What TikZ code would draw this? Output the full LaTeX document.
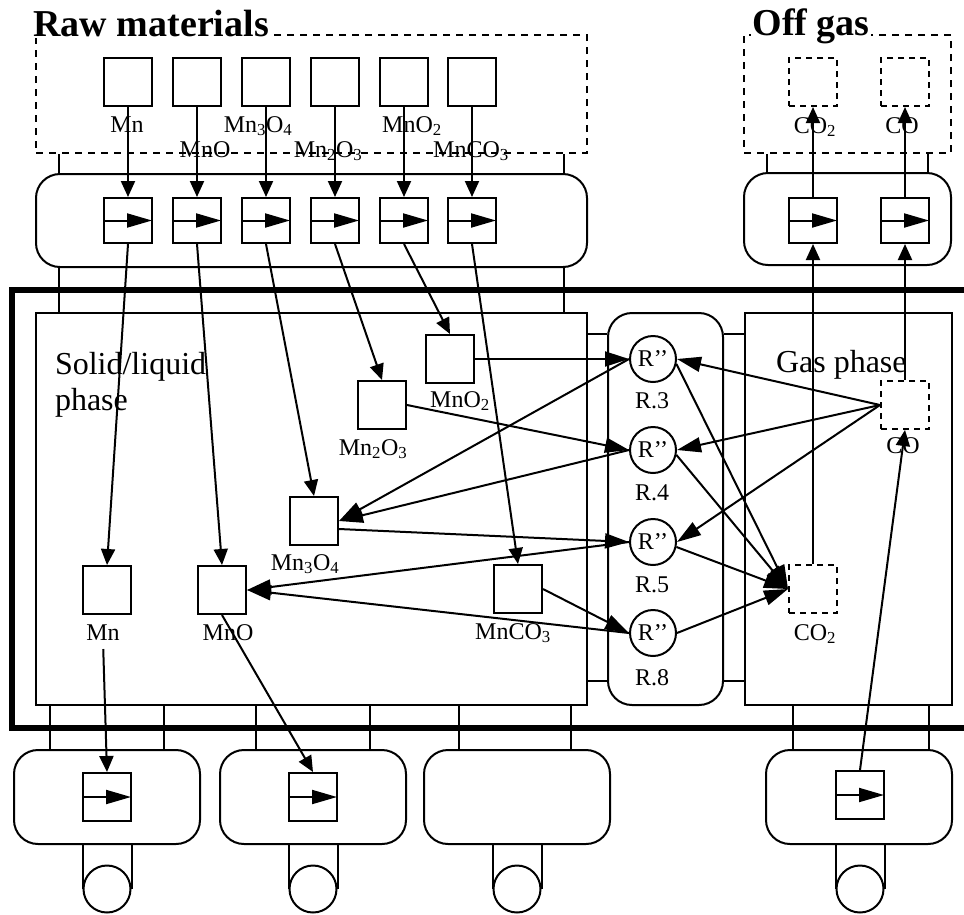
\documentclass[tikz,border=0pt]{standalone}
\usepackage{fontspec}
\setmainfont{Liberation Serif}
\usetikzlibrary{arrows.meta,positioning,calc}
\tikzset{
  sp/.style={draw,minimum size=48pt,inner sep=0pt},
  gsp/.style={sp,dash pattern=on 6pt off 5pt},
  store/.style={draw,dash pattern=on 7pt off 6pt,inner sep=0pt},
  port/.style={draw,rounded corners=24pt,inner sep=0pt},
  phasebox/.style={draw,inner sep=0pt,minimum height=392pt},
  valve/.style={draw,minimum width=48pt,minimum height=45pt,inner sep=0pt,
    path picture={\draw[line width=2pt,-{Triangle[length=25pt,width=14pt]}]
      (path picture bounding box.west) -- (path picture bounding box.east);}},
  rxn/.style={circle,draw,minimum size=46pt,inner sep=0pt,font=\fontsize{24}{26}\selectfont},
  drum/.style={circle,draw,minimum size=47pt,inner sep=0pt},
  arr/.style={-{Triangle[length=16pt,width=14pt]}},
  rarr/.style={-{Triangle[length=24pt,width=15pt]}},
  lab/.style={font=\fontsize{24}{26}\selectfont,inner sep=0pt,anchor=base},
  phs/.style={font=\fontsize{32}{36}\selectfont,inner sep=0pt,anchor=base west},
  ttl/.style={font=\fontsize{38}{40}\selectfont\bfseries,inner sep=1.5pt,fill=white,anchor=base west},
}

\begin{document}
\begin{tikzpicture}[x=1pt,y=-1pt,line width=2pt]
\useasboundingbox (0,0) rectangle (964,914);
% stores on top
\node[store,minimum width=551pt,minimum height=118pt] (rawbox) at (311.5,94) {};
\node[store,minimum width=207pt,minimum height=118pt] (offbox) at (847.5,94) {};
\node[ttl] (rawttl) at (31,36) {Raw materials};
\node[ttl] (offttl) at (750,35) {Off gas};

% raw materials
\node[sp] (rMn) at (128,82) {};
\node[sp] (rMnO) at (197,82) {};
\node[sp] (rMn3O4) at (266,82) {};
\node[sp] (rMn2O3) at (335,82) {};
\node[sp] (rMnO2) at (404,82) {};
\node[sp] (rMnCO3) at (472,82) {};
\node[lab] (tMn) at (127,132) {Mn};
\node[lab] (tMnO) at (205,157) {MnO};
\node[lab] (tMn3O4) at (258,132) {Mn\textsubscript{3}O\textsubscript{4}};
\node[lab] (tMn2O3) at (328,157) {Mn\textsubscript{2}O\textsubscript{3}};
\node[lab] (tMnO2) at (412,132) {MnO\textsubscript{2}};
\node[lab] (tMnCO3) at (471,157) {MnCO\textsubscript{3}};

% off gas species
\node[gsp] (oCO2) at (813,82) {};
\node[gsp] (oCO) at (905,82) {};
\node[lab] (tCO2) at (815,133) {CO\textsubscript{2}};
\node[lab] (tCO) at (902,133) {CO};

% feed and off gas ports
\node[port,minimum width=551pt,minimum height=93pt] (rawport) at (311.5,220.5) {};
\node[port,minimum width=207pt,minimum height=92pt] (offport) at (847.5,219) {};
\draw ([xshift=24pt]rawbox.south west) -- ([xshift=24pt]rawport.north west);
\draw ([xshift=-24pt]rawbox.south east) -- ([xshift=-24pt]rawport.north east);
\draw ([xshift=24pt]offbox.south west) -- ([xshift=24pt]offport.north west);
\draw ([xshift=-24pt]offbox.south east) -- ([xshift=-24pt]offport.north east);
\node[valve] (vMn) at (128,220.5) {};
\node[valve] (vMnO) at (197,220.5) {};
\node[valve] (vMn3O4) at (266,220.5) {};
\node[valve] (vMn2O3) at (335,220.5) {};
\node[valve] (vMnO2) at (404,220.5) {};
\node[valve] (vMnCO3) at (472,220.5) {};
\node[valve] (ovCO2) at (813,220.5) {};
\node[valve] (ovCO) at (905,220.5) {};

% plant frame
\draw[line width=6pt] (975,290) -- (12,290) -- (12,728) -- (975,728);

% phases and reactor
\node[phasebox,minimum width=551pt] (solid) at (311.5,509) {};
\node[port,minimum width=115pt,minimum height=392pt] (react) at (665.5,509) {};
\node[phasebox,minimum width=207pt] (gas) at (848.5,509) {};
\node[phs] (slA) at (54,374) {Solid/liquid};
\node[phs] (slB) at (54,410) {phase};
\node[phs] (gph) at (775,372) {Gas phase};
\draw ([xshift=24pt]rawport.south west) -- ([xshift=24pt]solid.north west);
\draw ([xshift=-24pt]rawport.south east) -- ([xshift=-24pt]solid.north east);
\draw ([yshift=-22pt]solid.north east) -- ([yshift=-22pt]react.north west);
\draw ([yshift=25pt]solid.south east) -- ([yshift=25pt]react.south west);
\draw ([yshift=-22pt]react.north east) -- ([yshift=-22pt]gas.north west);
\draw ([yshift=25pt]react.south east) -- ([yshift=25pt]gas.south west);

% solid/liquid species
\node[sp] (sMnO2) at (450,359) {};
\node[sp] (sMn2O3) at (382,405) {};
\node[sp] (sMn3O4) at (314,521) {};
\node[sp] (sMn) at (107,590) {};
\node[sp] (sMnO) at (222,590) {};
\node[sp] (sMnCO3) at (518,589) {};
\node[lab] (lMnO2) at (460,407) {MnO\textsubscript{2}};
\node[lab] (lMn2O3) at (373,455) {Mn\textsubscript{2}O\textsubscript{3}};
\node[lab] (lMn3O4) at (305,570) {Mn\textsubscript{3}O\textsubscript{4}};
\node[lab] (lMn) at (103,640) {Mn};
\node[lab] (lMnO) at (228,640) {MnO};
\node[lab] (lMnCO3) at (513,639) {MnCO\textsubscript{3}};

% reactions
\node[rxn] (R3) at (653,359) {R’’};
\node[rxn] (R4) at (653,450) {R’’};
\node[rxn] (R5) at (653,542) {R’’};
\node[rxn] (R8) at (653,633) {R’’};
\node[lab] (lR3) at (652,408) {R.3};
\node[lab] (lR4) at (652,500) {R.4};
\node[lab] (lR5) at (652,592) {R.5};
\node[lab] (lR8) at (652,685) {R.8};

% gas species
\node[gsp] (gCO) at (905,405) {};
\node[gsp] (gCO2) at (813,589) {};
\node[lab] (lCO) at (903,453) {CO};
\node[lab] (lCO2) at (815,640) {CO\textsubscript{2}};

% outlet ports
\node[port,minimum width=186pt,minimum height=94pt] (out1) at (107,797) {};
\node[port,minimum width=186pt,minimum height=94pt] (out2) at (313,797) {};
\node[port,minimum width=186pt,minimum height=94pt] (out3) at (517,797) {};
\node[port,minimum width=186pt,minimum height=94pt] (out4) at (859,797) {};
\node[valve,minimum height=48pt] (bv1) at (107,797) {};
\node[valve,minimum height=48pt] (bv2) at (313,797) {};
\node[valve,minimum height=48pt] (bv4) at (860,795) {};
\node[drum] (d1) at (107,889) {};
\node[drum] (d2) at (313,889) {};
\node[drum] (d3) at (517,889) {};
\node[drum] (d4) at (860,889) {};
\draw ([xshift=-57pt]out1.north) -- ([xshift=-57pt]out1.north |- solid.south);
\draw ([xshift=57pt]out1.north) -- ([xshift=57pt]out1.north |- solid.south);
\draw ([xshift=-57pt]out2.north) -- ([xshift=-57pt]out2.north |- solid.south);
\draw ([xshift=57pt]out2.north) -- ([xshift=57pt]out2.north |- solid.south);
\draw ([xshift=-58pt]out3.north) -- ([xshift=-58pt]out3.north |- solid.south);
\draw ([xshift=54pt]out3.north) -- ([xshift=54pt]out3.north |- solid.south);
\draw ([xshift=-66pt]out4.north) -- ([xshift=-66pt]out4.north |- gas.south);
\draw ([xshift=70pt]out4.north) -- ([xshift=70pt]out4.north |- gas.south);
\draw (d1.west |- out1.south) -- (d1.west); \draw (d1.east |- out1.south) -- (d1.east);
\draw (d2.west |- out2.south) -- (d2.west); \draw (d2.east |- out2.south) -- (d2.east);
\draw (d3.west |- out3.south) -- (d3.west); \draw (d3.east |- out3.south) -- (d3.east);
\draw (d4.west |- out4.south) -- (d4.west); \draw (d4.east |- out4.south) -- (d4.east);

% feed arrows
\draw[arr] (rMn) -- (vMn); \draw[arr] (rMnO) -- (vMnO);
\draw[arr] (rMn3O4) -- (vMn3O4); \draw[arr] (rMn2O3) -- (vMn2O3);
\draw[arr] (rMnO2) -- (vMnO2); \draw[arr] (rMnCO3) -- (vMnCO3);
\draw[arr] (vMn.south) -- (sMn.north); \draw[arr] (vMnO.south) -- (sMnO.north);
\draw[arr] (vMn3O4.south) -- (sMn3O4.north); \draw[arr] (vMn2O3.south) -- (sMn2O3.north);
\draw[arr] (vMnO2.south) -- (sMnO2.north); \draw[arr] (vMnCO3.south) -- (sMnCO3.north);

% reaction network
\draw[rarr] (sMnO2.east) -- (R3.west);
\draw[rarr] (sMn2O3.east) -- (R4.west);
\draw[rarr] (R3.west) -- (sMn3O4.east);
\draw[rarr] (R4.west) -- (sMn3O4.east);
\draw[rarr] ([yshift=-8pt]sMn3O4.east) -- (R5.west);
\draw[rarr] (R5.west) -- (sMnO.east);
\draw[rarr] (R8.west) -- (sMnO.east);
\draw[rarr] (sMnCO3.east) -- (R8.west);
\draw[rarr] (gCO.west) -- (R3.east);
\draw[rarr] (gCO.west) -- (R4.east);
\draw[rarr] (gCO.west) -- (R5.east);
\draw[rarr] (R3.-12) -- (gCO2.west);
\draw[rarr] (R4.-12) -- (gCO2.west);
\draw[rarr] (R5.-12) -- (gCO2.west);
\draw[rarr] (R8.east) -- (gCO2.west);

% off gas and outlets
\draw[arr] (gCO2.north) -- (ovCO2.south); \draw[arr] (ovCO2.north) -- (oCO2.south);
\draw[arr] (gCO.north) -- (ovCO.south); \draw[arr] (ovCO.north) -- (oCO.south);
\draw[arr,shorten <=8pt] (lMn.south) -- (bv1.north);
\draw[arr] (sMnO.south) -- (bv2.north);
\draw[arr] (bv4.north) -- (gCO.south);
\end{tikzpicture}
\end{document}
